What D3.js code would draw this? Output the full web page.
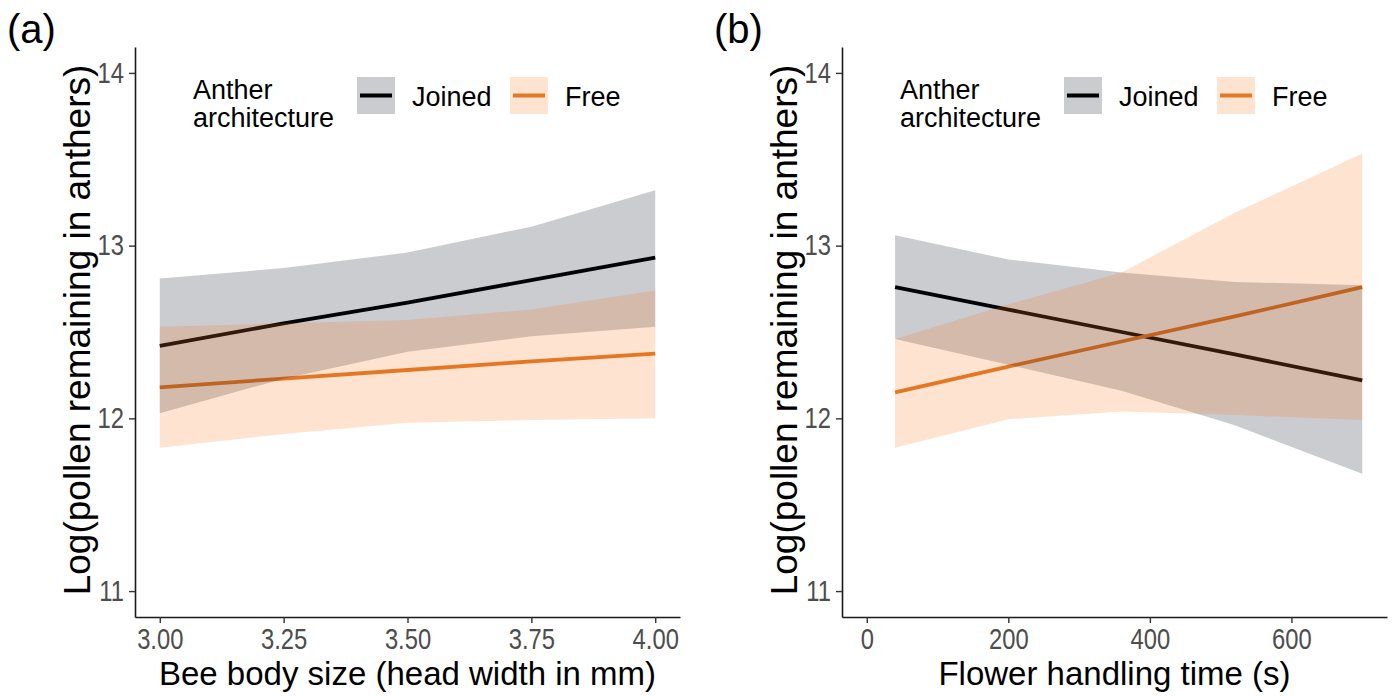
<!DOCTYPE html>
<html>
<head>
<meta charset="utf-8">
<script src="https://cdn.jsdelivr.net/npm/d3@7"></script>
<style>
  body { margin: 0; background: #fff; }
  svg { display: block; font-family: "Liberation Sans", Arial, sans-serif; }
</style>
</head>
<body>
<svg id="chart" width="1395" height="696"></svg>
<script>

// ---- data ----
// (a) bee body size
var xA = [3.00, 3.25, 3.50, 3.75, 4.00];
var joinedFitA = [12.42, 12.55, 12.67, 12.80, 12.93];
var joinedHiA  = [12.81, 12.87, 12.96, 13.11, 13.32];
var joinedLoA  = [12.03, 12.23, 12.385, 12.475, 12.53];
var freeFitA   = [12.18, 12.23, 12.28, 12.33, 12.375];
var freeHiA    = [12.53, 12.55, 12.57, 12.63, 12.74];
var freeLoA    = [11.83, 11.91, 11.975, 11.99, 12.00];

// (b) flower handling time
var xB = [40, 200, 360, 520, 700];
var joinedFitB = [12.76, 12.63, 12.50, 12.37, 12.22];
var joinedHiB  = [13.06, 12.92, 12.845, 12.79, 12.77];
var joinedLoB  = [12.46, 12.31, 12.16, 11.96, 11.68];
var freeFitB   = [12.15, 12.30, 12.445, 12.59, 12.76];
var freeHiB    = [12.46, 12.66, 12.845, 13.19, 13.534];
var freeLoB    = [11.83, 11.995, 12.04, 12.02, 11.99];

var groups = ["Joined", "Free"];
var yTicks = [11, 12, 13, 14];
var xTicksA = [3.00, 3.25, 3.50, 3.75, 4.00];
var xTicksB = [0, 200, 400, 600];
var yLabel = "Log(pollen remaining in anthers)";
var legendTitle = ["Anther", "architecture"];

// colours
var lineCol = {Joined: "#000000", Free: "#e17927"};
var fillCol = {Joined: "#0b1020", Free: "#f57314"};
var fillOp = {Joined: 0.21, Free: 0.2};

const svg = d3.select('#chart');
const narrow = 0.82;	//tick labels in the figure are a condensed face

// y scale shared by both panels
const plotTop = 47, plotBottom = 617;
const y = d3.scaleLinear().domain([10.85, 14.15]).range([plotBottom, plotTop]);

var panels = [
	{tag: "(a)", left: 135, right: 680, xdom: [2.95, 4.05], ticks: xTicksA, fmt: d3.format(".2f"),
	 xlab: "Bee body size (head width in mm)", x: xA,
	 fit: {Joined: joinedFitA, Free: freeFitA}, hi: {Joined: joinedHiA, Free: freeHiA}, lo: {Joined: joinedLoA, Free: freeLoA}},
	{tag: "(b)", left: 842, right: 1387, xdom: [-35, 735], ticks: xTicksB, fmt: d3.format("d"),
	 xlab: "Flower handling time (s)", x: xB,
	 fit: {Joined: joinedFitB, Free: freeFitB}, hi: {Joined: joinedHiB, Free: freeHiB}, lo: {Joined: joinedLoB, Free: freeLoB}}
];

panels.forEach(function(p) {
	const x = d3.scaleLinear().domain(p.xdom).range([p.left, p.right]);
	const g = svg.append('g');

	//fitted lines first, ribbons are laid over them
	groups.forEach(function(k) {
		const pts = p.x.map(function(v, i) { return [v, p.fit[k][i]]; });
		g.append('path')
			.attr('d', d3.line().x(function(d) { return x(d[0]); }).y(function(d) { return y(d[1]); })(pts))
			.attr('fill', 'none')
			.attr('stroke', lineCol[k])
			.attr('stroke-width', 3.8);
	});
	groups.forEach(function(k) {
		const band = p.x.map(function(v, i) { return {x: v, lo: p.lo[k][i], hi: p.hi[k][i]}; });
		g.append('path')
			.attr('d', d3.area().x(function(d) { return x(d.x); }).y0(function(d) { return y(d.lo); }).y1(function(d) { return y(d.hi); })(band))
			.attr('fill', fillCol[k])
			.attr('fill-opacity', fillOp[k]);
	});

	//axes
	const ax = g.append('g').attr('transform', 'translate(0,' + plotBottom + ')')
		.call(d3.axisBottom(x).tickValues(p.ticks).tickFormat(p.fmt).tickSize(6).tickSizeOuter(0).tickPadding(5));
	const ay = g.append('g').attr('transform', 'translate(' + p.left + ',0)')
		.call(d3.axisLeft(y).tickValues(yTicks).tickFormat(d3.format("d")).tickSize(6).tickSizeOuter(0).tickPadding(5));
	[ax, ay].forEach(function(a) {
		a.select('.domain').attr('stroke', '#1a1a1a').attr('stroke-width', 1.6);
		a.selectAll('.tick line').attr('stroke', '#333').attr('stroke-width', 1.4);
		a.selectAll('.tick text').attr('fill', '#4d4d4d').style('font-size', '29px')
			.attr('transform', 'scale(' + narrow + ',1)');
	});
	ay.selectAll('.tick text').attr('x', -11 / narrow);

	//axis titles
	g.append('text')
		.attr('x', (p.left + p.right) / 2).attr('y', 685)
		.attr('text-anchor', 'middle')
		.style('font-size', '33px').attr('fill', '#000')
		.text(p.xlab);
	g.append('text')
		.attr('transform', 'translate(' + (p.left - 45) + ',' + 330 + ') rotate(-90)')
		.attr('text-anchor', 'middle')
		.style('font-size', '37px').attr('fill', '#000')
		.text(yLabel);

	//panel tag
	g.append('text')
		.attr('x', p.left - 128).attr('y', 43)
		.style('font-size', '40px').attr('fill', '#000')
		.text(p.tag);

	//legend
	const lg = g.append('g').attr('transform', 'translate(' + (p.left + 58) + ',0)');
	legendTitle.forEach(function(t, i) {
		lg.append('text').attr('x', 0).attr('y', 99 + i * 28)
			.style('font-size', '27px').attr('fill', '#000').text(t);
	});
	var kx = [164, 317];
	groups.forEach(function(k, i) {
		lg.append('rect').attr('x', kx[i]).attr('y', 77).attr('width', 38).attr('height', 37)
			.attr('fill', fillCol[k]).attr('fill-opacity', fillOp[k]);
		lg.append('line').attr('x1', kx[i] + 3).attr('x2', kx[i] + 35).attr('y1', 95.5).attr('y2', 95.5)
			.attr('stroke', lineCol[k]).attr('stroke-width', 4);
		lg.append('text').attr('x', kx[i] + 55).attr('y', 106)
			.style('font-size', '27px').attr('fill', '#000').text(k);
	});
});

</script>
</body>
</html>
